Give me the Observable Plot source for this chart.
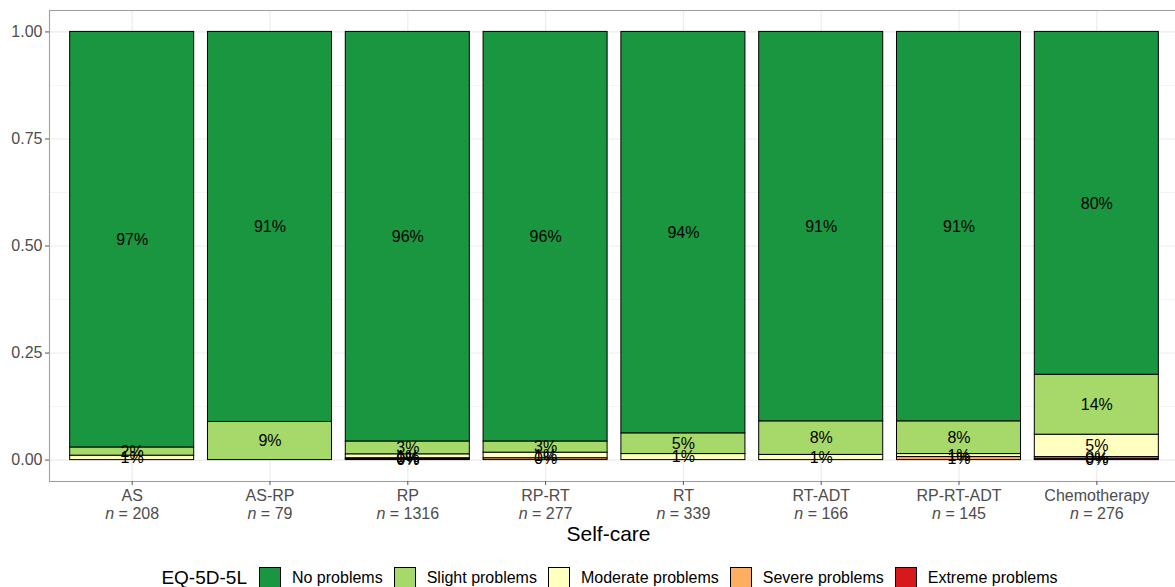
<!DOCTYPE html>
<html>
<head>
<meta charset="utf-8">
<script src="https://cdn.jsdelivr.net/npm/d3@7"></script>
<script src="https://cdn.jsdelivr.net/npm/@observablehq/plot@0.6"></script>
<style>
  html, body { margin: 0; padding: 0; background: #fff; overflow: hidden; }
  body { font-family: "Liberation Sans", Arial, sans-serif; }
  #wrap { width: 1175px; height: 587px; overflow: hidden; position: relative; }
  #chart { width: 1179px; height: 550px; }
  #chart svg { max-width: none !important; }
  #legend { width: 1230px; margin-top: 17px; display: flex; justify-content: center; align-items: center; height: 22px; }
  #legend .title { font-size: 19px; color: #000; margin-right: 12px; }
  #legend .key { width: 20px; height: 20px; border: 1px solid #000; margin-right: 11px; box-sizing: content-box; }
  #legend .lab { font-size: 16px; color: #000; margin-right: 11px; }
</style>
</head>
<body>
<div id="wrap">
  <div id="chart"></div>
  <div id="legend"></div>
</div>
<script>
// ---- Data ----
const groups = ["AS", "AS-RP", "RP", "RP-RT", "RT", "RT-ADT", "RP-RT-ADT", "Chemotherapy"];
const groupN = [208, 79, 1316, 277, 339, 166, 145, 276];
const levels = ["No problems", "Slight problems", "Moderate problems", "Severe problems", "Extreme problems"];
const levelColors = ["#1a9641", "#a6d96a", "#ffffbf", "#fdae61", "#d7191c"];
const noProblems       = [0.971, 0.911, 0.957, 0.957, 0.938, 0.910, 0.910, 0.801];
const slightProblems   = [0.019, 0.089, 0.030, 0.026, 0.048, 0.078, 0.076, 0.140];
const moderateProblems = [0.010, 0.000, 0.009, 0.013, 0.014, 0.012, 0.007, 0.052];
const severeProblems   = [0.000, 0.000, 0.002, 0.004, 0.000, 0.000, 0.007, 0.004];
const extremeProblems  = [0.000, 0.000, 0.002, 0.000, 0.000, 0.000, 0.000, 0.003];
const yTicks = [0, 0.25, 0.5, 0.75, 1];
const yMinor = [0.125, 0.375, 0.625, 0.875];

const series = [noProblems, slightProblems, moderateProblems, severeProblems, extremeProblems];
const data = [];
groups.forEach((g, i) => {
  levels.forEach((l, j) => {
    const v = series[j][i];
    if (v > 0) data.push({group: g, level: l, value: v});
  });
});
const stackOrder = levels.slice().reverse();

const font = '"Liberation Sans", Arial, sans-serif';
const gridColor = "#ebebeb";

const chart = Plot.plot({
  width: 1179,
  height: 550,
  marginLeft: 49,
  marginRight: 0,
  marginTop: 10,
  marginBottom: 69,
  style: {fontFamily: font, background: "#fff", overflow: "hidden", maxWidth: "none"},
  x: {type: "band", domain: groups, paddingInner: 0.1, paddingOuter: 0.15, round: false, axis: null},
  y: {domain: [-0.05, 1.05], axis: null},
  color: {domain: levels, range: levelColors},
  marks: [
    Plot.gridY(yMinor, {stroke: gridColor, strokeOpacity: 1, strokeWidth: 0.55}),
    Plot.gridY(yTicks, {stroke: gridColor, strokeOpacity: 1, strokeWidth: 1.1}),
    Plot.gridX(groups, {stroke: gridColor, strokeOpacity: 1, strokeWidth: 1.1}),
    Plot.barY(data, {x: "group", y: "value", fill: "level", stroke: "#000", strokeWidth: 1, order: stackOrder}),
    Plot.text(data, Plot.stackY({
      x: "group", y: "value", z: "level", order: stackOrder,
      text: d => Math.round(d.value * 100) + "%",
      fontSize: 16, fill: "#000"
    })),
    Plot.frame({stroke: "#a0a0a0", strokeWidth: 1.1}),
    Plot.axisY({
      ticks: yTicks, tickFormat: d3.format(".2f"), tickSize: 4, tickPadding: 3,
      fontSize: 16, fill: "#4d4d4d", stroke: "#555", label: null
    }),
    Plot.axisX({
      tickSize: 4, tickPadding: 3, fontSize: 16, fill: "#4d4d4d", stroke: "#555", lineHeight: 1.1,
      tickFormat: d => d + "\n" + "n = " + groupN[groups.indexOf(d)], label: null
    }),
    Plot.text(["Self-care"], {frameAnchor: "bottom", dy: 53, dx: -6, fontSize: 21, fill: "#000", lineAnchor: "middle"})
  ]
});

// italic "n" in tick labels
const SVGNS = "http://www.w3.org/2000/svg";
chart.querySelectorAll('[aria-label="x-axis tick label"] tspan').forEach(t => {
  const s = t.textContent;
  if (s.startsWith("n = ")) {
    t.textContent = "";
    const it = document.createElementNS(SVGNS, "tspan");
    it.setAttribute("font-style", "italic");
    it.textContent = "n";
    t.appendChild(it);
    t.appendChild(document.createTextNode(s.slice(1)));
  }
});
document.getElementById("chart").appendChild(chart);

// legend
const legend = document.getElementById("legend");
const title = document.createElement("span");
title.className = "title";
title.textContent = "EQ-5D-5L";
legend.appendChild(title);
levels.forEach((l, j) => {
  const k = document.createElement("span");
  k.className = "key";
  k.style.background = levelColors[j];
  legend.appendChild(k);
  const lab = document.createElement("span");
  lab.className = "lab";
  lab.textContent = l;
  legend.appendChild(lab);
});
</script>
</body>
</html>
